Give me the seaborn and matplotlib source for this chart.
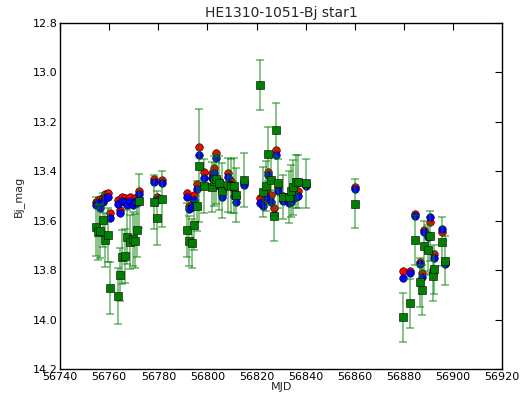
import matplotlib

matplotlib.use('Agg')
import matplotlib.pyplot as plt
import numpy as np
import pandas as pd
import seaborn as sns

# observation dates (MJD)
mjd = [
    56754.5, 56755.3, 56756.4, 56757.5, 56758.3, 56759.4, 56760.3, 56763.4, 56764.3, 56765.1,
    56766.4, 56767.2, 56768.4, 56769.5, 56770.5, 56771.4, 56772.2, 56778.3, 56779.5, 56781.3,
    56791.6, 56792.6, 56793.7, 56794.6, 56795.7, 56796.6, 56798.6, 56801.8, 56802.8, 56803.5,
    56804.8, 56805.8, 56808.5, 56809.5, 56810.7, 56811.7, 56814.7,
    56821.5, 56822.6, 56823.9, 56824.8, 56825.9, 56826.9, 56828.0, 56828.9, 56830.9, 56833.0,
    56833.9, 56835.0, 56836.0, 56837.0, 56840.2,
    56860.1,
    56879.4, 56882.5, 56884.5, 56886.4, 56887.5, 56888.3, 56889.6, 56890.4, 56891.7, 56892.4,
    56895.4, 56896.8,
]
# target star (green squares) and its error
star_mag = [
    13.624, 13.647, 13.642, 13.597, 13.678, 13.659, 13.874, 13.906, 13.818, 13.746,
    13.743, 13.665, 13.687, 13.675, 13.681, 13.638, 13.520, 13.524, 13.590, 13.512,
    13.638, 13.682, 13.692, 13.619, 13.541, 13.377, 13.460, 13.463, 13.440, 13.431,
    13.447, 13.478, 13.456, 13.460, 13.458, 13.495, 13.435,
    13.050, 13.483, 13.459, 13.330, 13.436, 13.579, 13.232, 13.449, 13.503, 13.503,
    13.479, 13.465, 13.442, 13.442, 13.449,
    13.531,
    13.991, 13.934, 13.678, 13.849, 13.880, 13.702, 13.719, 13.661, 13.824, 13.797,
    13.685, 13.762,
]
star_err = [
    0.12, 0.11, 0.11, 0.11, 0.11, 0.11, 0.105, 0.113, 0.108, 0.11,
    0.11, 0.11, 0.11, 0.11, 0.11, 0.11, 0.11, 0.11, 0.11, 0.115,
    0.11, 0.1, 0.1, 0.1, 0.1, 0.23, 0.11, 0.1, 0.1, 0.1,
    0.11, 0.11, 0.11, 0.11, 0.11, 0.11, 0.11,
    0.1, 0.1, 0.1, 0.11, 0.1, 0.105, 0.11, 0.1, 0.09, 0.106,
    0.105, 0.11, 0.108, 0.108, 0.098,
    0.1,
    0.1, 0.1, 0.1, 0.1, 0.1, 0.1, 0.1, 0.1, 0.1, 0.1,
    0.1, 0.1,
]
# comparison stars (red and blue circles)
ref1_mag = [
    13.523, 13.516, 13.513, 13.507, 13.491, 13.487, 13.568, 13.516, 13.557, 13.503,
    13.510, 13.520, 13.503, 13.520, 13.510, 13.520, 13.480, 13.431, 13.505, 13.435,
    13.487, 13.541, 13.533, 13.497, 13.452, 13.303, 13.404, 13.408, 13.388, 13.325,
    13.440, 13.480, 13.406, 13.438, 13.476, 13.503, 13.445,
    13.510, 13.523, 13.483, 13.402, 13.496, 13.550, 13.314, 13.469, 13.500, 13.510,
    13.500, 13.490, 13.485, 13.480, 13.450,
    13.462,
    13.802, 13.802, 13.574, 13.766, 13.810, 13.638, 13.658, 13.604, 13.800, 13.735,
    13.645, 13.766,
]
ref2_mag = [
    13.538, 13.530, 13.547, 13.523, 13.510, 13.503, 13.588, 13.532, 13.570, 13.519,
    13.525, 13.535, 13.520, 13.535, 13.525, 13.530, 13.492, 13.445, 13.515, 13.449,
    13.503, 13.552, 13.545, 13.516, 13.473, 13.334, 13.428, 13.428, 13.406, 13.348,
    13.460, 13.503, 13.425, 13.455, 13.500, 13.523, 13.456,
    13.530, 13.541, 13.503, 13.415, 13.523, 13.577, 13.334, 13.480, 13.520, 13.530,
    13.525, 13.510, 13.505, 13.500, 13.460,
    13.470,
    13.833, 13.810, 13.580, 13.775, 13.826, 13.645, 13.665, 13.584, 13.810, 13.749,
    13.635, 13.775,
]

df = pd.DataFrame({
    'mjd': mjd,
    'star': star_mag,
    'err': star_err,
    'ref1': ref1_mag,
    'ref2': ref2_mag,
})

sns.set_style('white')
plt.rcParams['font.family'] = ['DejaVu Sans']

fig = plt.figure(figsize=(5.27, 3.97), dpi=100)
ax = fig.add_axes([0.114, 0.0705, 0.839, 0.8715])

sns.scatterplot(data=df, x='mjd', y='ref1', ax=ax, color='red', marker='o', s=30,
                edgecolor='black', linewidth=0.4, zorder=3)
sns.scatterplot(data=df, x='mjd', y='ref2', ax=ax, color='blue', marker='o', s=30,
                edgecolor='black', linewidth=0.4, zorder=4)
ax.errorbar(df['mjd'], df['star'], yerr=df['err'], fmt='none', ecolor='green',
            alpha=0.5, elinewidth=1.3, capsize=3, capthick=1.3, zorder=5)
sns.scatterplot(data=df, x='mjd', y='star', ax=ax, color='green', marker='s', s=36,
                edgecolor='black', linewidth=0.4, zorder=6)

ax.set_xlim(56740, 56920)
ax.set_ylim(14.2, 12.8)
ax.set_xticks(np.arange(56740, 56921, 20))
ax.set_yticks(np.arange(12.8, 14.21, 0.2))
ax.set_yticklabels([f'{v:.1f}' for v in np.arange(12.8, 14.21, 0.2)])
ax.tick_params(direction='in', length=5, width=0.8, top=True, right=True,
               labelsize=8, pad=2, colors='black')
for side in ax.spines.values():
    side.set_color('black')
    side.set_linewidth(1.0)

ax.set_title('HE1310-1051-Bj star1', fontsize=10, pad=4)
ax.set_xlabel('MJD', fontsize=8, labelpad=0)
ax.set_ylabel('Bj_mag', fontsize=8, labelpad=6)

fig.savefig('out.png', dpi=100)
